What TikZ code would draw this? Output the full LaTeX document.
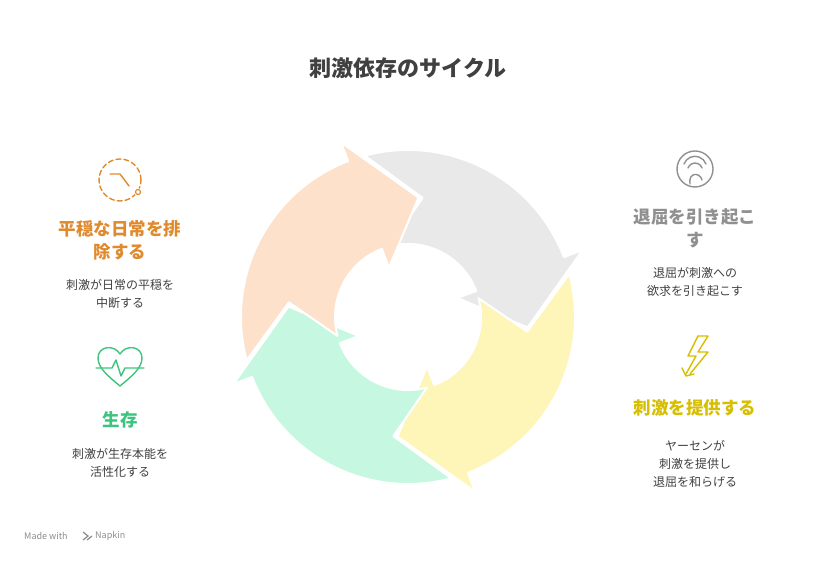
\documentclass[tikz,border=0pt]{standalone}
\usepackage{fontspec}
\setmainfont{Noto Sans CJK JP}
\begin{document}
\begin{tikzpicture}[x=1pt,y=1pt,
  seg/.style={draw=white,line width=2pt,line join=round},
  head/.style={font=\bfseries\fontsize{17.5}{23}\selectfont,align=center},
  desc/.style={font=\fontsize{12}{18}\selectfont,text=black!75,align=center},
  ico/.style={line width=1.4pt,line cap=round,line join=round},
  wmk/.style={font=\fontsize{9}{11}\selectfont,text=black!45,inner sep=0pt}]
\useasboundingbox (0,0) rectangle (816,564);
\definecolor{cgray}{HTML}{E9E9E9}
\definecolor{cyel}{HTML}{FEF6B8}
\definecolor{cgrn}{HTML}{C6F8E1}
\definecolor{cpch}{HTML}{FDE1CB}
\definecolor{torg}{HTML}{E08A2E}
\definecolor{tgrn}{HTML}{3CC47E}
\definecolor{tgry}{HTML}{909090}
\definecolor{tyel}{HTML}{D6BE00}
\coordinate (c) at (408,247);
\foreach \S/\col in {105/cgray,15/cyel,-75/cgrn,-165/cpch}{
  \pgfmathsetmacro\H{\S-84}
  \pgfmathsetmacro\T{\S-110}
  \pgfmathsetmacro\N{\S-22}
  \fill[\col,seg] ([shift={(\S:167)}]c) arc[start angle=\S,end angle=\H,radius=167]
    -- ([shift={(\H:187)}]c) -- ([shift={(\T:120)}]c) -- ([shift={(\H:53)}]c)
    -- ([shift={(\H:73)}]c) arc[start angle=\H,end angle=\S,radius=73]
    -- ([shift={(\N:120)}]c) -- cycle;
}
\node[font=\bfseries\fontsize{22}{26}\selectfont,text=black!75] (title) at (408,496) {刺激依存のサイクル};
% left top
\node[head,text=torg] (h1) at (120,324) {平穏な日常を排\\除する};
\node[desc] (d1) at (120,270) {刺激が日常の平穏を\\中断する};
\draw[ico,torg,dash pattern=on 5pt off 3pt] (120,384) circle (21);
\draw[ico,torg] (110,390) -- (120,390) -- (129,378);
\fill[white] (138,372) circle (4); \draw[ico,torg,line width=1.2pt] (138,372) circle (2.5);
% left bottom
\node[head,text=tgrn] (h2) at (120,144) {生存};
\node[desc] (d2) at (120,101) {刺激が生存本能を\\活性化する};
\draw[ico,tgrn] (120,178) .. controls (108,188) and (98,196) .. (98,206) .. controls (98,218) and (114,220) .. (120,210)
  .. controls (126,220) and (142,218) .. (142,206) .. controls (142,196) and (132,188) .. (120,178);
\draw[ico,tgrn] (96,196) -- (112,196) -- (116,204) -- (121,188) -- (125,196) -- (144,196);
% right top
\node[head,text=tgry] (h3) at (695,336) {退屈を引き起こ\\す};
\node[desc] (d3) at (695,282) {退屈が刺激への\\欲求を引き起こす};
\draw[ico,tgry] (695,395) circle (18);
\draw[ico,tgry] (684,400) arc (160:20:11.7);
\draw[ico,tgry] (688,396) arc (160:20:7.5);
\draw[ico,tgry] (690,380) .. controls (688,392) and (700,392) .. (702,384);
% right bottom
\node[head,text=tyel] (h4) at (695,156) {刺激を提供する};
\node[desc] (d4) at (695,100) {ヤーセンが\\刺激を提供し\\退屈を和らげる};
\draw[ico,tyel] (698,228) -- (708,228) -- (698,212) -- (708,212) -- (690,190);
\draw[ico,tyel] (698,228) -- (688,208) -- (696,208) -- (686,190);
\draw[ico,tyel] (682,196) -- (686,188) -- (694,190);
\node[wmk,anchor=west] (wm1) at (24,28) {Made with};
\node[wmk,anchor=west] (wm2) at (95,28) {Napkin};
\draw[black!45,line width=1.2pt] (83,24) -- (88,28) -- (83,32) (87,24) -- (92,28);
\end{tikzpicture}
\end{document}
